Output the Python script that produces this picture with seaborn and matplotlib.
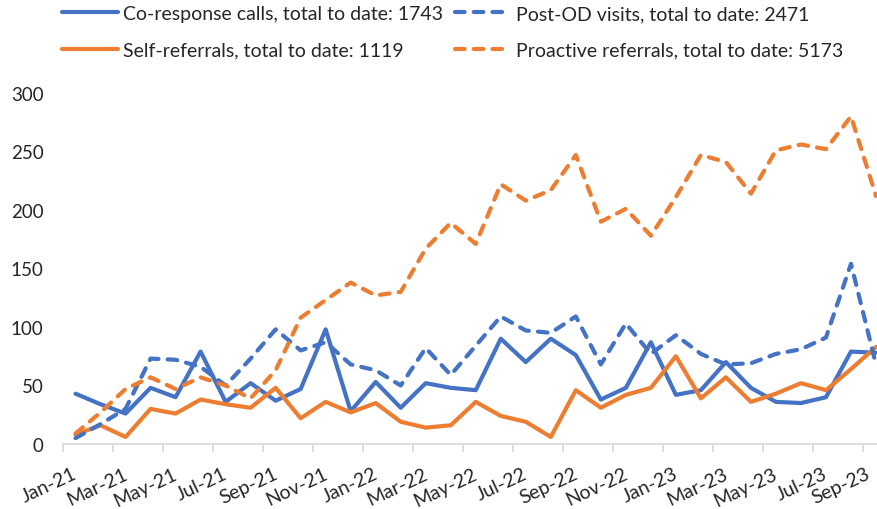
import matplotlib
matplotlib.use("Agg")
import matplotlib.pyplot as plt
import matplotlib.transforms as mtransforms
import seaborn as sns
import pandas as pd
import numpy as np

months = ["Jan-21","Feb-21","Mar-21","Apr-21","May-21","Jun-21","Jul-21","Aug-21","Sep-21","Oct-21","Nov-21","Dec-21",
          "Jan-22","Feb-22","Mar-22","Apr-22","May-22","Jun-22","Jul-22","Aug-22","Sep-22","Oct-22","Nov-22","Dec-22",
          "Jan-23","Feb-23","Mar-23","Apr-23","May-23","Jun-23","Jul-23","Aug-23","Sep-23"]

co_response = [43, 34, 26, 48, 40, 79, 36, 52, 37, 47, 98, 28, 53, 31, 52, 48, 46, 90, 70, 90, 76,
               38, 48, 87, 42, 46, 70, 48, 36, 35, 40, 79, 78]
post_od = [5, 17, 30, 73, 72, 66, 50, 73, 98, 80, 87, 68, 63, 50, 82, 59, 84, 109, 97, 95, 109,
           68, 103, 77, 93, 77, 68, 69, 77, 81, 91, 154, 68]
self_ref = [8, 16, 6, 30, 26, 38, 34, 31, 48, 22, 36, 27, 35, 19, 14, 16, 36, 24, 19, 6, 46,
            31, 42, 48, 75, 39, 57, 36, 43, 52, 46, 64, 83]
proactive = [9, 27, 47, 57, 47, 57, 50, 39, 63, 108, 123, 138, 127, 130, 167, 189, 171, 222, 208, 217, 247,
             190, 201, 178, 211, 247, 241, 214, 251, 256, 252, 280, 212]

labels = ["Co-response calls, total to date: 1743",
          "Self-referrals, total to date: 1119",
          "Post-OD visits, total to date: 2471",
          "Proactive referrals, total to date: 5173"]

BLUE = "#4472C4"
ORANGE = "#ED7D31"

sns.set_theme(style="white")
plt.rcParams['font.family'] = ['Lato', 'DejaVu Sans']

fig = plt.figure(figsize=(8.78, 5.10), dpi=100)
ax = fig.add_axes([63/878, 1-445/510, 1-63/878, (445-94)/510])

x = np.arange(len(months))
series = [(co_response, BLUE, False, labels[0]),
          (self_ref, ORANGE, False, labels[1]),
          (post_od, BLUE, True, labels[2]),
          (proactive, ORANGE, True, labels[3])]
handles = []
for vals, col, dashed, lab in series:
    df = pd.DataFrame({"x": x, "y": vals})
    sns.lineplot(data=df, x="x", y="y", ax=ax, color=col, linewidth=3.0, label=lab,
                 legend=False, clip_on=False)
    line = ax.lines[-1]
    line.set_solid_capstyle("round")
    line.set_solid_joinstyle("round")
    if dashed:
        line.set_dashes((2.3, 2.2))
        line.set_dash_capstyle("round")
    handles.append(line)

ax.set_xlim(-0.5, 32.08)
ax.set_ylim(0, 300)
ax.set_xlabel("")
ax.set_ylabel("")

ax.set_xticks(x[::2])
ax.set_xticks(np.arange(-0.5, 32, 2), minor=True)
ax.tick_params(axis="x", which="major", length=0, pad=15)
ax.tick_params(axis="x", which="minor", length=6, color="#D9D9D9", width=1.2, direction="out", bottom=True)
ax.set_yticks([0, 50, 100, 150, 200, 250, 300])
ax.tick_params(axis="y", length=0, pad=14, labelsize=13.5)
ax.set_xticklabels(months[::2], rotation=25, ha="right", va="top", rotation_mode="anchor", fontsize=14)

for s in ["top", "right", "left"]:
    ax.spines[s].set_visible(False)
ax.spines["bottom"].set_color("#D9D9D9")
ax.spines["bottom"].set_linewidth(1.2)
ax.grid(False)

# small horizontal nudge of the month labels (last one a bit more so it stays inside the figure)
major_ticks = ax.xaxis.get_major_ticks()
for i, tk in enumerate(major_ticks):
    dx = -3 if i < len(major_ticks) - 1 else -11
    tk.label1.set_transform(tk.label1.get_transform() +
                            mtransforms.ScaledTranslation(dx/100, 0, fig.dpi_scale_trans))

leg = fig.legend(handles=handles, labels=labels, ncol=2, loc="upper left",
                 bbox_to_anchor=(62/878, 1 - 6/510), frameon=False, fontsize=14,
                 handlelength=2.9, handletextpad=0.25, columnspacing=0.6, labelspacing=1.0,
                 borderaxespad=0, borderpad=0)

fig.savefig("out.png", dpi=100)
